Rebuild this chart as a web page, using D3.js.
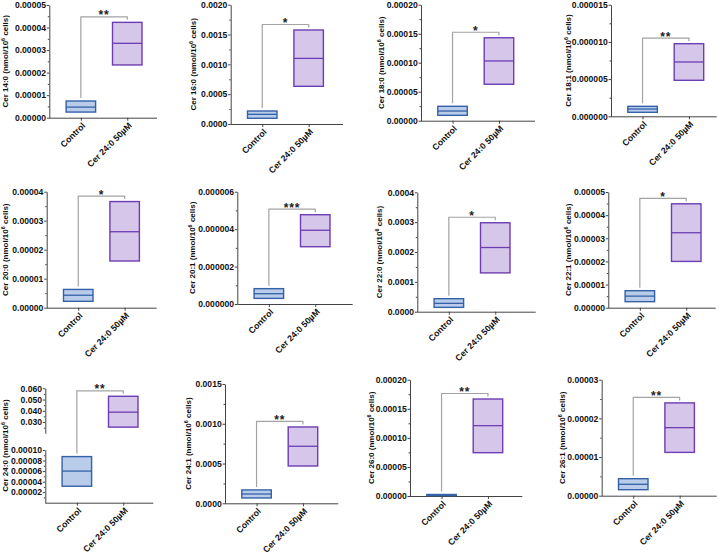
<!DOCTYPE html>
<html><head><meta charset="utf-8">
<script src="https://cdn.jsdelivr.net/npm/d3@7"></script>
<style>body{margin:0;background:#fff}svg{display:block}</style>
</head><body><svg id="c" width="719" height="554"></svg>
<script>
// ---------- data ----------
const lipids = ["14:0","16:0","18:0","18:1","20:0","20:1","22:0","22:1","24:0","24:1","26:0","26:1"];
const categories = ["Control", "Cer 24:0 50µM"];
const controlLow    = [2.5e-6, 0.000096, 9.3e-6, 5.4e-7, 2.2e-6, 3.0e-7, 1.45e-5, 2.6e-6, 3.12e-5, 6.7e-5, 0.8e-6, 1.55e-6];
const controlMedian = [4.7e-6, 0.000162, 1.67e-5, 9.8e-7, 4.3e-6, 5.5e-7, 2.8e-5, 5.0e-6, 6.0e-5, 1.17e-4, 1.6e-6, 2.95e-6];
const controlHigh   = [7.4e-6, 0.000218, 2.48e-5, 1.34e-6, 6.3e-6, 8.2e-7, 4.36e-5, 7.35e-6, 8.75e-5, 1.68e-4, 2.6e-6, 4.4e-6];
const treatedLow    = [2.34e-5, 0.000632, 6.28e-5, 4.84e-6, 1.61e-5, 3.06e-6, 1.3e-4, 2.0e-5, 0.0255, 4.69e-4, 7.45e-5, 1.12e-5];
const treatedMedian = [3.3e-5, 0.0011, 1.03e-4, 7.3e-6, 2.62e-5, 3.94e-6, 2.15e-4, 3.24e-5, 0.0388, 7.17e-4, 1.21e-4, 1.76e-5];
const treatedHigh   = [4.23e-5, 0.001576, 1.43e-4, 9.76e-6, 3.66e-5, 4.77e-6, 2.98e-4, 4.49e-5, 0.0529, 9.6e-4, 1.668e-4, 2.4e-5];
const significance  = ["**","*","*","**","*","***","*","*","**","**","**","**"];
const yMax      = [0.00005, 0.002, 0.0002, 0.000015, 0.00004, 0.000006, 0.0004, 0.00005, null, 0.0015, 0.0002, 0.00003];
const yStep     = [0.00001, 0.0005, 0.00005, 0.000005, 0.00001, 0.000002, 0.0001, 0.00001, null, 0.0005, 0.00005, 0.00001];
const yDecimals = [5, 4, 5, 6, 5, 6, 4, 5, null, 4, 5, 5];
// broken axis (Cer 24:0 panel)
const brokenLowerDomain = [0, 0.0001];
const brokenLowerTicks  = [0.00002, 0.00004, 0.00006, 0.00008, 0.0001];
const brokenLowerMinor  = [0.00001, 0.00003, 0.00005, 0.00007, 0.00009];
const brokenUpperDomain = [0.02, 0.06];
const brokenUpperTicks  = [0.03, 0.04, 0.05, 0.06];
const brokenUpperMinor  = [0.025, 0.035, 0.045, 0.055];

// ---------- layout ----------
const layout = [
  {ax:49.3,  top:5,     zero:117.7, xEnd:157,   tx:43},
  {ax:230.7, top:4.7,   zero:124,   xEnd:343,   tx:36.7},
  {ax:421,   top:4.7,   zero:120.7, xEnd:535,   tx:39.3},
  {ax:611,   top:4.7,   zero:116.3, xEnd:716.7, tx:42},
  {ax:46.7,  top:191.7, zero:307.7, xEnd:156.7, tx:41},
  {ax:237.3, top:191.7, zero:304,   xEnd:352.7, tx:44},
  {ax:417.3, top:192.3, zero:311.7, xEnd:535.7, tx:37.3},
  {ax:608.3, top:192,   zero:307.7, xEnd:715.7, tx:39.6},
  {ax:45.3,  broken:true, upTop:388.3, upBottom:433.3, lowTop:450, zero:502.7, xEnd:153.3, tx:39.6},
  {ax:225,   top:384,   zero:503.3, xEnd:338.3, tx:36},
  {ax:410,   top:379.7, zero:496,   xEnd:522.3, tx:37.7},
  {ax:601.7, top:379.7, zero:495.7, xEnd:716.7, tx:39}
];
const FONT = "'Liberation Sans', Arial, Helvetica, sans-serif";
const AXIS = "#444";
const fills = ["#b9cdea", "#d6c6ea"];
const strokes = ["#3461a8", "#6c3db3"];
const BOXW = 29.5;

const svg = d3.select("#c");
svg.append("rect").attr("width",719).attr("height",554).attr("fill","#fff");

function drawYAxis(g, scale, ax, major, minor, dec) {
  const a = g.append("g").attr("transform", `translate(${ax},0)`)
    .call(d3.axisLeft(scale).tickValues(major).tickFormat(d3.format(`.${dec}f`))
      .tickSize(2.5).tickPadding(0.8).tickSizeOuter(0));
  a.attr("font-family", FONT).attr("font-size", 8.6).attr("font-weight", "bold");
  a.select(".domain").attr("stroke", AXIS);
  a.selectAll(".tick line").attr("stroke", AXIS);
  a.selectAll(".tick text").attr("fill", "#111");
  const m = g.append("g").attr("transform", `translate(${ax},0)`)
    .call(d3.axisLeft(scale).tickValues(minor).tickFormat("").tickSize(1.5).tickSizeOuter(0));
  m.select(".domain").remove();
  m.selectAll(".tick line").attr("stroke", AXIS);
}

function drawPanel(i) {
  const L = layout[i];
  const g = svg.append("g").attr("font-family", FONT);
  const x = d3.scalePoint().domain(categories).range([L.ax, L.ax + 109.5]).padding(0.68);
  let yPos, titleTop;
  if (L.broken) {
    const yLow = d3.scaleLinear().domain(brokenLowerDomain).range([L.zero, L.lowTop]);
    const yUp = d3.scaleLinear().domain(brokenUpperDomain).range([L.upBottom, L.upTop]);
    yPos = v => v >= brokenUpperDomain[0] ? yUp(v) : yLow(v);
    drawYAxis(g, yLow, L.ax, brokenLowerTicks, brokenLowerMinor, 5);
    drawYAxis(g, yUp, L.ax, brokenUpperTicks, brokenUpperMinor, 3);
    titleTop = L.upTop;
  } else {
    const y = d3.scaleLinear().domain([0, yMax[i]]).range([L.zero, L.top]);
    const n = Math.round(yMax[i] / yStep[i]);
    const major = d3.range(n + 1).map(k => k * yStep[i]);
    const minor = d3.range(n).map(k => (k + 0.5) * yStep[i]);
    drawYAxis(g, y, L.ax, major, minor, yDecimals[i]);
    yPos = y; titleTop = L.top;
  }

  // x axis
  g.append("line").attr("x1", L.ax).attr("x2", L.xEnd)
    .attr("y1", L.zero + 0.5).attr("y2", L.zero + 0.5).attr("stroke", AXIS);
  const xa = g.append("g").attr("transform", `translate(0,${L.zero})`)
    .call(d3.axisBottom(x).tickSize(3).tickSizeOuter(0));
  xa.select(".domain").remove();
  xa.attr("font-family", FONT).attr("font-size", 8.7).attr("font-weight", "bold");
  xa.selectAll(".tick line").attr("stroke", AXIS);
  xa.selectAll(".tick text").attr("y", 0).attr("dy", 0).attr("fill", "#111")
    .attr("text-anchor", "end").attr("transform", "translate(4.5,8.5) rotate(-45)");

  // y title
  const t = g.append("text")
    .attr("transform", `translate(${L.ax - L.tx + 2},${(titleTop + L.zero) / 2}) rotate(-90)`)
    .attr("text-anchor", "middle").attr("font-size", 8).attr("font-weight", "bold").attr("fill", "#111");
  t.append("tspan").text(`Cer ${lipids[i]} (nmol/10`);
  t.append("tspan").attr("dy", -3).attr("font-size", 5.5).text("6");
  t.append("tspan").attr("dy", 3).text(" cells)");

  // boxes
  const boxes = [
    {c: categories[0], lo: controlLow[i], med: controlMedian[i], hi: controlHigh[i], k: 0},
    {c: categories[1], lo: treatedLow[i], med: treatedMedian[i], hi: treatedHigh[i], k: 1}
  ];
  boxes.forEach(b => {
    const cx = x(b.c);
    const yt = yPos(b.hi), yb = yPos(b.lo), ym = yPos(b.med);
    g.append("rect").attr("x", cx - BOXW / 2).attr("y", yt).attr("width", BOXW)
      .attr("height", Math.max(yb - yt, 0.8)).attr("fill", fills[b.k])
      .attr("stroke", strokes[b.k]).attr("stroke-width", 1.4);
    g.append("line").attr("x1", cx - BOXW / 2).attr("x2", cx + BOXW / 2)
      .attr("y1", ym).attr("y2", ym).attr("stroke", strokes[b.k]).attr("stroke-width", 1.3);
  });

  // significance bracket
  const x1 = x(categories[0]), x2 = x(categories[1]);
  const top1 = yPos(controlHigh[i]), top2 = yPos(treatedHigh[i]);
  const by = Math.min(top1, top2) - 5.5;
  g.append("path")
    .attr("d", `M${x1},${top1 - 3}V${by}H${x2}V${top2 - 2.5}`)
    .attr("fill", "none").attr("stroke", "#a3a3a3").attr("stroke-width", 1.2);
  g.append("text").attr("x", (x1 + x2) / 2).attr("y", by + 2.5)
    .attr("text-anchor", "middle").attr("font-size", 12).attr("font-weight", "bold")
    .attr("letter-spacing", 0.8).attr("fill", "#222").text(significance[i]);
}

lipids.forEach((d, i) => drawPanel(i));
</script>
</body></html>
